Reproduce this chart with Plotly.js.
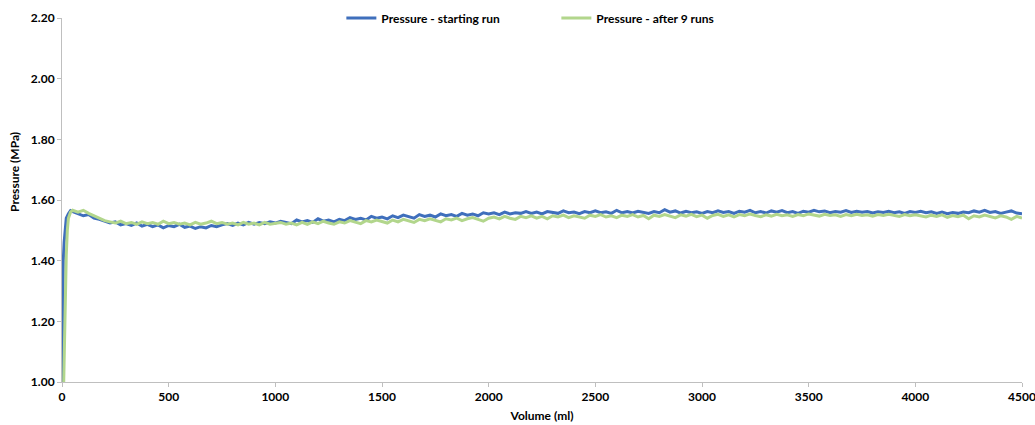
<!DOCTYPE html>
<html>
<head>
<meta charset="utf-8">
<script src="https://cdn.plot.ly/plotly-3.0.1.min.js"></script>
<style>html,body{margin:0;padding:0;background:#fff;}#chart{width:1035px;height:425px;}</style>
</head>
<body>
<div id="chart"></div>
<script>
// Initial rise (ml, MPa)
const blueRiseX = [0, 2, 4, 6, 10, 15, 20, 30, 40];
const blueRiseY = [1.00, 1.20, 1.34, 1.40, 1.46, 1.51, 1.54, 1.555, 1.565];
const greenRiseX = [8, 12, 16, 20, 25, 30, 40];
const greenRiseY = [1.00, 1.15, 1.30, 1.42, 1.50, 1.54, 1.56];

// Sampled volumes (ml) after the rise
const volumes = [
  50,75,100,125,150,175,200,225,
  250,275,300,325,350,375,400,425,
  450,475,500,525,550,575,600,625,
  650,675,700,725,750,775,800,825,
  850,875,900,925,950,975,1000,1025,
  1050,1075,1100,1125,1150,1175,1200,1225,
  1250,1275,1300,1325,1350,1375,1400,1425,
  1450,1475,1500,1525,1550,1575,1600,1625,
  1650,1675,1700,1725,1750,1775,1800,1825,
  1850,1875,1900,1925,1950,1975,2000,2025,
  2050,2075,2100,2125,2150,2175,2200,2225,
  2250,2275,2300,2325,2350,2375,2400,2425,
  2450,2475,2500,2525,2550,2575,2600,2625,
  2650,2675,2700,2725,2750,2775,2800,2825,
  2850,2875,2900,2925,2950,2975,3000,3025,
  3050,3075,3100,3125,3150,3175,3200,3225,
  3250,3275,3300,3325,3350,3375,3400,3425,
  3450,3475,3500,3525,3550,3575,3600,3625,
  3650,3675,3700,3725,3750,3775,3800,3825,
  3850,3875,3900,3925,3950,3975,4000,4025,
  4050,4075,4100,4125,4150,4175,4200,4225,
  4250,4275,4300,4325,4350,4375,4400,4425,
  4450,4475,4500
];

// Pressure - starting run (MPa)
const pressureStart = [
  1.562,1.555,1.548,1.552,1.540,1.536,1.530,1.524,
  1.528,1.518,1.522,1.516,1.524,1.514,1.520,1.512,
  1.518,1.508,1.516,1.512,1.520,1.510,1.514,1.506,
  1.512,1.508,1.516,1.512,1.518,1.522,1.516,1.524,
  1.518,1.526,1.520,1.526,1.522,1.528,1.524,1.530,
  1.526,1.522,1.534,1.528,1.532,1.526,1.538,1.530,
  1.534,1.528,1.536,1.532,1.542,1.536,1.540,1.534,
  1.546,1.540,1.544,1.538,1.548,1.542,1.550,1.544,
  1.540,1.552,1.546,1.550,1.544,1.554,1.548,1.552,
  1.546,1.556,1.550,1.554,1.548,1.558,1.554,1.558,
  1.552,1.560,1.554,1.558,1.556,1.562,1.556,1.560,
  1.554,1.562,1.558,1.556,1.564,1.558,1.560,1.555,
  1.562,1.558,1.564,1.558,1.561,1.556,1.566,1.558,
  1.562,1.557,1.563,1.559,1.556,1.562,1.558,1.568,
  1.560,1.564,1.557,1.563,1.558,1.561,1.556,1.562,
  1.558,1.564,1.559,1.562,1.556,1.563,1.560,1.566,
  1.558,1.562,1.557,1.564,1.560,1.565,1.558,1.562,
  1.556,1.563,1.560,1.566,1.561,1.564,1.558,1.562,
  1.560,1.565,1.559,1.563,1.560,1.562,1.557,1.561,
  1.559,1.563,1.558,1.561,1.556,1.562,1.559,1.563,
  1.558,1.561,1.556,1.560,1.555,1.559,1.556,1.560,
  1.558,1.564,1.560,1.566,1.559,1.562,1.556,1.560,
  1.564,1.557,1.555
];

// Pressure - after 9 runs (MPa)
const pressureAfter9 = [
  1.566,1.560,1.566,1.556,1.548,1.540,1.532,1.528,
  1.524,1.530,1.522,1.526,1.520,1.528,1.522,1.526,
  1.520,1.530,1.522,1.526,1.520,1.524,1.518,1.526,
  1.520,1.524,1.530,1.522,1.526,1.520,1.524,1.518,
  1.526,1.520,1.524,1.518,1.526,1.520,1.522,1.526,
  1.520,1.524,1.518,1.526,1.520,1.528,1.522,1.530,
  1.524,1.520,1.528,1.524,1.532,1.526,1.522,1.532,
  1.528,1.534,1.530,1.524,1.534,1.528,1.536,1.530,
  1.526,1.536,1.532,1.538,1.534,1.528,1.538,1.534,
  1.540,1.532,1.538,1.542,1.536,1.530,1.540,1.544,
  1.538,1.546,1.540,1.536,1.546,1.542,1.548,1.540,
  1.546,1.538,1.548,1.544,1.550,1.542,1.548,1.544,
  1.540,1.550,1.546,1.552,1.544,1.548,1.542,1.550,
  1.546,1.552,1.544,1.549,1.538,1.550,1.546,1.552,
  1.548,1.542,1.551,1.547,1.553,1.545,1.550,1.540,
  1.549,1.553,1.546,1.551,1.544,1.552,1.548,1.554,
  1.549,1.545,1.551,1.547,1.553,1.548,1.551,1.546,
  1.552,1.548,1.554,1.550,1.547,1.553,1.549,1.551,
  1.546,1.552,1.548,1.553,1.549,1.551,1.547,1.552,
  1.549,1.553,1.550,1.546,1.552,1.548,1.551,1.547,
  1.544,1.550,1.546,1.551,1.543,1.549,1.545,1.550,
  1.538,1.548,1.544,1.550,1.546,1.541,1.548,1.544,
  1.536,1.546,1.540
];

const seriesNames = ['Pressure - starting run', 'Pressure - after 9 runs'];
const xTicks = [0, 500, 1000, 1500, 2000, 2500, 3000, 3500, 4000, 4500];
const yTicks = [1.00, 1.20, 1.40, 1.60, 1.80, 2.00, 2.20];

const font = {family: 'Lato, "Open Sans", sans-serif', size: 12, color: '#000', weight: 'bold'};

const traces = [
  {
    x: blueRiseX.concat(volumes),
    y: blueRiseY.concat(pressureStart),
    name: seriesNames[0],
    type: 'scatter', mode: 'lines',
    line: {color: '#3f6fbc', width: 3}
  },
  {
    x: greenRiseX.concat(volumes),
    y: greenRiseY.concat(pressureAfter9),
    name: seriesNames[1],
    type: 'scatter', mode: 'lines',
    line: {color: '#b2d68c', width: 3}
  }
];

const layout = {
  width: 1035, height: 425,
  margin: {l: 62, r: 13, t: 18, b: 43, autoexpand: false},
  paper_bgcolor: '#fff', plot_bgcolor: '#fff',
  font: font,
  showlegend: true,
  legend: {orientation: 'h', x: 0.291, xanchor: 'left', y: 1.0, yanchor: 'middle',
           bgcolor: 'rgba(0,0,0,0)', font: font, itemwidth: 30, tracegroupgap: 0,
           entrywidth: 170, entrywidthmode: 'pixels'},
  xaxis: {
    range: [0, 4500], tickvals: xTicks, ticktext: xTicks.map(String),
    showgrid: false, zeroline: false, showline: true, linecolor: '#bfbfbf', linewidth: 1,
    ticks: 'outside', ticklen: 4, tickcolor: '#bfbfbf', tickfont: font,
    ticklabeloverflow: 'allow',
    title: {text: 'Volume (ml)', font: font, standoff: 8}
  },
  yaxis: {
    range: [1.0, 2.2], tickvals: yTicks, ticktext: yTicks.map(v => v.toFixed(2)),
    showgrid: false, zeroline: false, showline: true, linecolor: '#bfbfbf', linewidth: 1,
    ticks: 'outside', ticklen: 4, tickcolor: '#bfbfbf', tickfont: font,
    title: {text: ''}
  },
  annotations: [{
    text: 'Pressure (MPa)', xref: 'paper', yref: 'paper', x: -0.049, y: 0.577,
    xanchor: 'center', yanchor: 'middle', textangle: -90, showarrow: false, font: font
  }]
};

Plotly.newPlot('chart', traces, layout, {displayModeBar: false, staticPlot: true});
</script>
</body>
</html>
